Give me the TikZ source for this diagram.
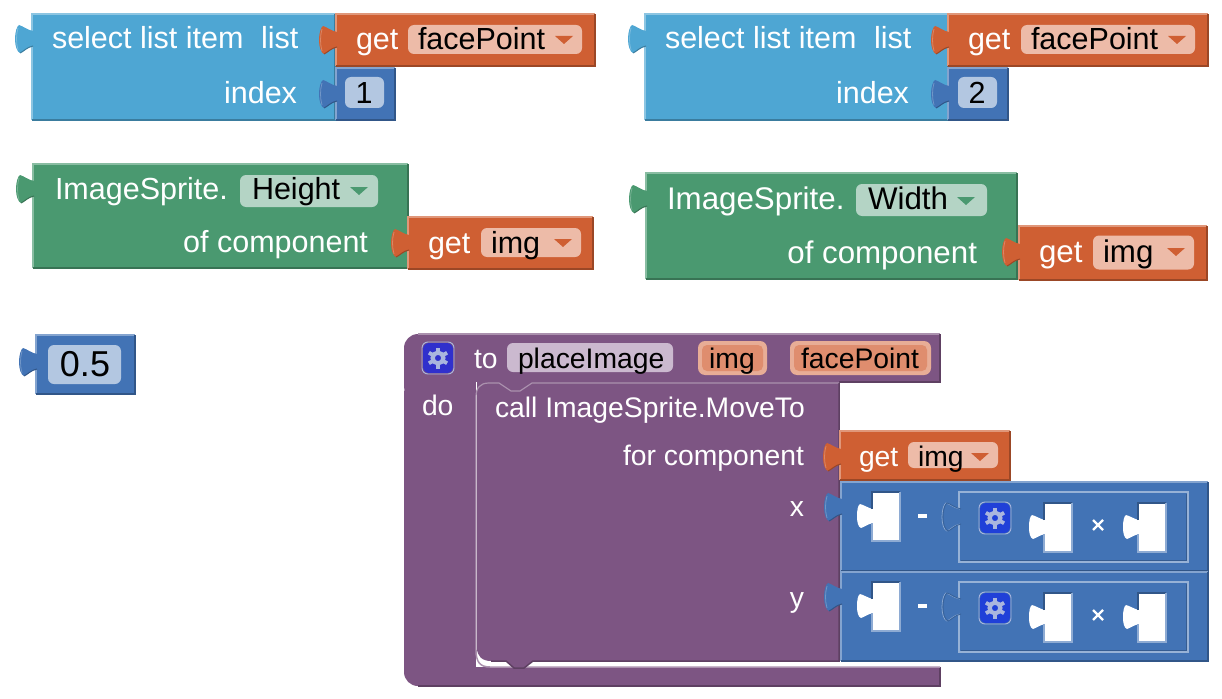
\documentclass[tikz,border=0pt]{standalone}
\usepackage{fontspec}
\setmainfont{Liberation Sans}
\definecolor{listc}{HTML}{4EA6D3}
\definecolor{getc}{HTML}{CF5F33}
\definecolor{valc}{HTML}{4273B5}
\definecolor{grnc}{HTML}{4A9970}
\definecolor{purc}{HTML}{7D5583}
\definecolor{getf}{HTML}{EDBBA8}
\definecolor{valf}{HTML}{B3C7E1}
\definecolor{grnf}{HTML}{B4D4C5}
\definecolor{purf}{HTML}{CBB9CF}
\definecolor{pilli}{HTML}{DF8D6E}
\definecolor{pillo}{HTML}{E8AD96}
\definecolor{gearc}{HTML}{AAB6DE}
\definecolor{gearp}{HTML}{3030CC}
\definecolor{gearb}{HTML}{2040D8}
\newcommand\gs{30.5}
\newcommand\gb{36}
\newcommand\fp{0}
\tikzset{
  wtxt/.style={text=white,inner sep=0pt,outer sep=0pt,font=\fontsize{\gs}{\gs}\selectfont},
  btxt/.style={text=black,inner sep=0pt,outer sep=0pt,font=\fontsize{\gs}{\gs}\selectfont},
  fieldbox/.style={rounded corners=6pt},
}
% edged block: x1 y1 x2 y2 colour
\newcommand\blk[5]{%
  \fill[#5] (#1,#2) rectangle (#3,#4);
  \draw[#5!65!white,line width=1.2pt] (#1,#4) -- (#1,#2) -- (#3,#2);
  \draw[#5!75!black,line width=1.5pt] (#3,#2) -- (#3,#4) -- (#1,#4);
}
% tab path
\newcommand\tabp[2]{(#1+1,#2+6) .. controls (#1-5,#2+5) and (#1-9,#2+1) .. (#1-13,#2) .. controls (#1-15,#2+1) and (#1-17,#2+7) .. (#1-17,#2+14) .. controls (#1-17,#2+21) and (#1-15,#2+27) .. (#1-12,#2+28) .. controls (#1-9,#2+27) and (#1-5,#2+22) .. (#1+1,#2+21)}
\newcommand\htabp[2]{(#1+1,#2+5) .. controls (#1-4,#2+4) and (#1-8,#2+1) .. (#1-12,#2) .. controls (#1-14,#2+1) and (#1-15,#2+6) .. (#1-15,#2+12) .. controls (#1-15,#2+18) and (#1-14,#2+23) .. (#1-11,#2+24) .. controls (#1-8,#2+23) and (#1-4,#2+20) .. (#1+1,#2+19)}
\newcommand\tabf[3]{%
  \fill[#3] \tabp{#1}{#2} -- cycle;
  \draw[#3!75!black,line width=1pt] (#1-12,#2+28) .. controls (#1-9,#2+27) and (#1-5,#2+22) .. (#1+1,#2+21);
  \draw[#3!75!white,line width=.8pt] (#1-14,#2+3) .. controls (#1-16,#2+10) and (#1-16,#2+18) .. (#1-14,#2+25);
}
% hole: x1 y1 x2 y2
\newcommand\hole[4]{%
  \fill[white] \htabp{#1}{#2+12} -- cycle;
  \fill[white] (#1,#2) rectangle (#3,#4);
  \draw[valc!75!black,line width=1.2pt] (#1,#2+17) -- (#1,#2) -- (#3,#2);
  \draw[valc!60!white,line width=1.2pt] (#3,#2) -- (#3,#4) -- (#1,#4) -- (#1,#2+31);
}
\newcommand\arrowdn[3]{\fill[#3] (#1,#2) -- (#1+18,#2) -- (#1+9,#2+8) -- cycle;}
\newcommand\gear[3]{%
  \fill[#3,rounded corners=6pt] (#1-15,#2-15) rectangle (#1+15,#2+15);
  \draw[gearc,rounded corners=6pt,line width=.9pt] (#1-16,#2-16) rectangle (#1+16,#2+16);
  \begin{scope}[shift={(#1,#2)}]
    \draw[gearc,line width=4.2pt] (0,0) circle[radius=5.4];
    \foreach \a in {30,90,...,330} \draw[gearc,line width=3.8pt] (\a:6) -- (\a:10.5);
  \end{scope}
}
% get block: name x1 y1 x2 y2 getx fieldx1 fieldx2 var
\newcommand\getblk[9]{%
  \blk{#2}{#3}{#4}{#5}{getc}
  \tabf{#2}{#3+12}{getc}
  \fill[getf,fieldbox] (#7,#3+11-\fp) rectangle (#8,#5-12+\fp);
  \node[wtxt,anchor=base west] (#1g) at (#6,#3+\gb) {get};
  \node[btxt,anchor=base west] (#1v) at (#7+10,#3+\gb) {#9};
  \arrowdn{#8-27}{#3+22}{getc}
}
\begin{document}
\begin{tikzpicture}[x=1pt,y=-1pt]
\useasboundingbox (0,0) rectangle (1222,698);
\fill[white] (0,0) rectangle (1222,698);

% --- select list item 1
\blk{32}{14}{335}{120}{listc}
\tabf{32}{25}{listc}
\node[wtxt,anchor=base west] (s1) at (52,49) {select list item\hspace{.3em} list};
\node[wtxt,anchor=base east] (i1) at (297,103) {index};
\getblk{ga}{336}{14}{595}{66}{356}{408}{582}{facePoint}
\blk{336}{68}{395}{120}{valc}
\tabf{336}{80}{valc}
\fill[valf,fieldbox] (345,77) rectangle (384,108);
\node[btxt,anchor=base] (n1) at (364,104) {1};

% --- select list item 2
\blk{645}{14}{948}{120}{listc}
\tabf{645}{25}{listc}
\node[wtxt,anchor=base west] (s2) at (665,49) {select list item\hspace{.3em} list};
\node[wtxt,anchor=base east] (i2) at (909,103) {index};
\getblk{gb}{948}{14}{1208}{66}{968}{1021}{1195}{facePoint}
\blk{948}{68}{1008}{120}{valc}
\tabf{948}{80}{valc}
\fill[valf,fieldbox] (958,77) rectangle (997,108);
\node[btxt,anchor=base] (n2) at (977,104) {2};

% --- Height
\blk{33}{164}{408}{268}{grnc}
\tabf{33}{175}{grnc}
\node[wtxt,anchor=base west] (h1) at (55,199) {ImageSprite.};
\fill[grnf,fieldbox] (240,175) rectangle (378,207);
\node[btxt,anchor=base west] (h2) at (252,199) {Height};
\arrowdn{350}{187}{grnc}
\node[wtxt,anchor=base east] (h3) at (368,252) {of component};
\getblk{gc}{408}{217}{593}{269}{428}{481}{581}{img}

% --- Width
\renewcommand\gs{31.3}
\renewcommand\fp{1.5}
\blk{646}{173}{1017}{279}{grnc}
\tabf{646}{185}{grnc}
\node[wtxt,anchor=base west] (w1) at (667,209) {ImageSprite.};
\fill[grnf,fieldbox] (856,184) rectangle (987,216);
\node[btxt,anchor=base west] (w2) at (868,209) {Width};
\arrowdn{957}{197}{grnc}
\node[wtxt,anchor=base east] (w3) at (977,263) {of component};
\getblk{gd}{1019}{226}{1207}{280}{1039}{1093}{1194}{img}
\renewcommand\fp{0}

% --- 0.5
\blk{36}{335}{135}{394}{valc}
\tabf{36}{348}{valc}
\fill[valf,fieldbox] (48,345) rectangle (121,384);
\node[btxt,anchor=base,font=\fontsize{36}{36}\selectfont] (n3) at (85,376) {0.5};

% --- procedure
\renewcommand\gs{28.3}
\renewcommand\gb{35}
\fill[purc,rounded corners=14pt] (404,400) -- (404,334) -- (600,334) -- (600,400) -- cycle;
\fill[purc,rounded corners=14pt] (404,380) -- (404,686) -- (600,686) -- (600,600) -- cycle;
\fill[purc] (500,334) rectangle (940,382);
\fill[purc] (440,667) rectangle (940,686);
\fill[white] (476,382) rectangle (620,667);
\fill[purc] (420,360) rectangle (476,670);
\fill[white] (476,655) rectangle (490,667);
\draw[purc!65!white,line width=1.2pt] (418,334) -- (940,334);
\draw[purc!75!black,line width=1.5pt] (940,334) -- (940,382) -- (839,382);
\draw[purc!75!black,line width=1.5pt] (418,686) -- (940,686) -- (940,667);
\draw[purc!65!white,line width=1.5pt] (476,650) .. controls (476,662) and (480,667) .. (490,667) -- (940,667);

% call block
\fill[purc] (477,382) -- (839,382) -- (839,661) -- (533,661) -- (524,668) -- (514,668) -- (506,661) -- (491,661) .. controls (482,661) and (477,656) .. (477,648) -- cycle;
\draw[purc!65!white,line width=1.2pt] (476,650) -- (476,397) .. controls (476,388) and (480,383) .. (489,383) -- (499,383) -- (511,391) -- (520,391) -- (532,383) -- (839,383);
\draw[purc!75!black,line width=1.5pt] (839,383) -- (839,661) -- (533,661) -- (524,668) -- (514,668) -- (506,661) -- (491,661);

\gear{438}{358}{gearp}
\node[wtxt,anchor=base west] (p1) at (474,368) {to};
\fill[purf,fieldbox] (507,343) rectangle (673,372);
\node[btxt,anchor=base west] (p2) at (518,368) {placeImage};
\fill[pillo,rounded corners=7pt] (698,341) rectangle (767,375);
\fill[pilli,rounded corners=5pt] (702,345) rectangle (763,371);
\node[btxt,anchor=base] (p3) at (732,368) {img};
\fill[pillo,rounded corners=7pt] (790,341) rectangle (931,375);
\fill[pilli,rounded corners=5pt] (794,345) rectangle (927,371);
\node[btxt,anchor=base] (p4) at (860,368) {facePoint};
\node[wtxt,anchor=base west] (p5) at (422,415) {do};
\node[wtxt,anchor=base west] (c1) at (495,417) {call ImageSprite.MoveTo};
\node[wtxt,anchor=base east] (c2) at (804,465) {for component};
\node[wtxt,anchor=base east] (c3) at (804,516) {x};
\node[wtxt,anchor=base east] (c4) at (804,607) {y};

\getblk{ge}{840}{431}{1010}{480}{859}{908}{998}{img}

% --- minus blocks
\foreach \dy in {0,90}{
  \pgfmathsetmacro\yy{\dy}
  \blk{841}{482+\yy}{1208}{571+\yy}{valc}
  \tabf{841}{493+\yy}{valc}
  \hole{872}{492+\yy}{900}{541+\yy}
  \fill[white] (918,514+\yy) rectangle (927,518+\yy);
  % inner block
  \draw[valc!80!black,line width=1pt] (958,491+\yy) -- (1186,491+\yy) (1186,494+\yy) -- (1186,560.5+\yy) -- (961,560.5+\yy);
  \draw[valc!55!white,line width=1.1pt] (959,492+\yy) rectangle (1188,562+\yy);
  \fill[valc] \tabp{960}{503+\yy} -- cycle;
  \draw[valc!60!white,line width=.8pt] \tabp{959}{503+\yy};
  \draw[valc!85!black,line width=.9pt] \tabp{960}{503+\yy};
  \gear{995}{518+\yy}{gearb}
  \hole{1044}{503+\yy}{1072}{552+\yy}
  \hole{1138}{503+\yy}{1166}{552+\yy}
  \draw[white,line width=2.4pt] (1093,520+\yy) -- (1103,530+\yy) (1103,520+\yy) -- (1093,530+\yy);
}
\end{tikzpicture}
\end{document}
